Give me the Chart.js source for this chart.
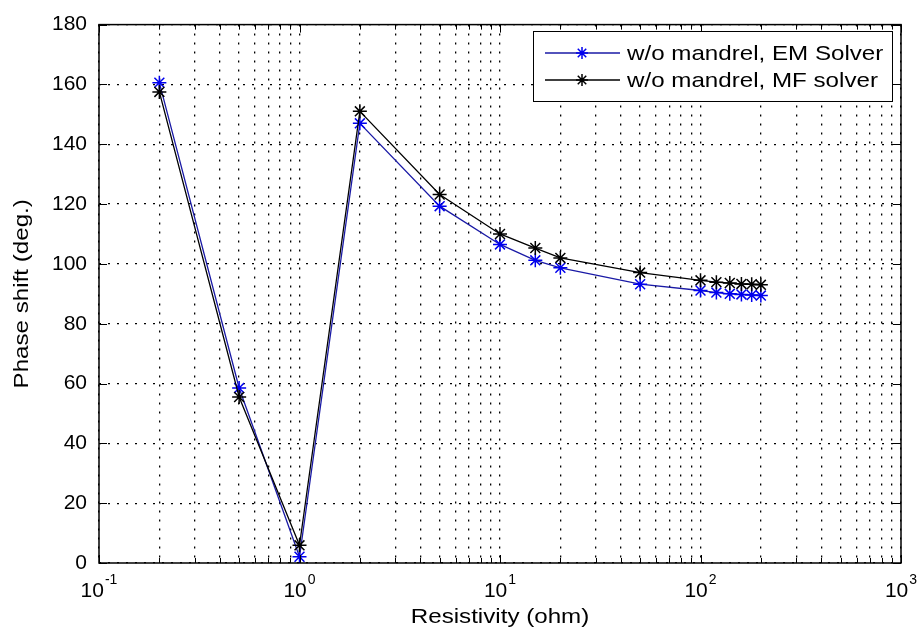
<!DOCTYPE html>
<html>
<head>
<meta charset="utf-8">
<script src="https://cdn.jsdelivr.net/npm/chart.js@4/dist/chart.umd.min.js"></script>
<style>
  body { margin: 0; background: #fff; }
  #wrap { width: 922px; height: 634px; }
</style>
</head>
<body>
<div id="wrap"><canvas id="chart" width="922" height="634"></canvas></div>
<script>
// data
var resistivity = [0.2, 0.5, 1, 2, 5, 10, 15, 20, 50, 100, 120, 140, 160, 180, 200];
var emSolver = [160.6, 58.5, 2.1, 147, 119.3, 106.5, 101.2, 98.7, 93.2, 91.1, 90.4, 90, 89.8, 89.6, 89.4];
var mfSolver = [157.5, 55.5, 5.9, 151, 123.2, 110, 105.3, 102, 97.1, 94.5, 93.9, 93.6, 93.3, 93.2, 93];
var seriesNames = ['w/o mandrel, EM Solver', 'w/o mandrel, MF solver'];
var lineColors = ['#1a1aa6', '#000000'];
var markColors = ['#0000ee', '#000000'];
var xDecades = [-1, 0, 1, 2, 3];
var yTicks = [0, 20, 40, 60, 80, 100, 120, 140, 160, 180];
var xTitle = 'Resistivity (ohm)';
var yTitle = 'Phase shift (deg.)';

var FONT = '"Liberation Sans", Arial, sans-serif';
var STRETCH = 1.15;

function pts(ys) {
    return resistivity.map(function(x, i){ return {x: x, y: ys[i]}; });
}

function starAt(ctx, x, y, r) {
    var d = r * Math.SQRT1_2;
    ctx.beginPath();
    ctx.moveTo(x - r, y); ctx.lineTo(x + r, y);
    ctx.moveTo(x, y - r); ctx.lineTo(x, y + r);
    ctx.moveTo(x - d, y - d); ctx.lineTo(x + d, y + d);
    ctx.moveTo(x - d, y + d); ctx.lineTo(x + d, y - d);
    ctx.stroke();
}

function wideText(ctx, txt, x, y, align) {
    ctx.save();
    ctx.translate(x, y);
    ctx.scale(STRETCH, 1);
    ctx.textAlign = align;
    ctx.fillText(txt, 0, 0);
    ctx.restore();
}

var matlabLook = {
    id: 'matlabLook',
    afterDraw: function(chart) {
        var ctx = chart.ctx, a = chart.chartArea;
        var xs = chart.scales.x, ys = chart.scales.y;
        ctx.save();
        ctx.strokeStyle = '#000';
        ctx.lineWidth = 1;
        ctx.setLineDash([]);

        // inward ticks on all sides
        ctx.beginPath();
        xs.ticks.forEach(function(t){
            var px = Math.round(xs.getPixelForValue(t.value)) + 0.5;
            var len = t.major ? 8 : 5;
            ctx.moveTo(px, a.bottom); ctx.lineTo(px, a.bottom - len);
            ctx.moveTo(px, a.top); ctx.lineTo(px, a.top + len);
        });
        yTicks.forEach(function(v){
            var py = Math.round(ys.getPixelForValue(v)) + 0.5;
            ctx.moveTo(a.left, py); ctx.lineTo(a.left + 8, py);
            ctx.moveTo(a.right, py); ctx.lineTo(a.right - 8, py);
        });
        ctx.stroke();

        // box
        ctx.lineWidth = 1.5;
        ctx.strokeRect(a.left, a.top, a.right - a.left, a.bottom - a.top);

        // x tick labels 10^n
        ctx.fillStyle = '#000';
        ctx.textBaseline = 'alphabetic';
        xDecades.forEach(function(e){
            var px = xs.getPixelForValue(Math.pow(10, e));
            ctx.font = '21px ' + FONT;
            var wb = ctx.measureText('10').width;
            ctx.font = '14px ' + FONT;
            var we = ctx.measureText(String(e)).width;
            var x0 = px - (wb + we + 1) / 2;
            ctx.font = '21px ' + FONT;
            ctx.textAlign = 'left';
            ctx.fillText('10', x0, a.bottom + 34);
            ctx.font = '14px ' + FONT;
            ctx.fillText(String(e), x0 + wb + 1, a.bottom + 21);
        });

        // axis titles
        ctx.font = '21px ' + FONT;
        ctx.textBaseline = 'middle';
        wideText(ctx, xTitle, (a.left + a.right) / 2, 617, 'center');
        ctx.save();
        ctx.translate(22, (a.top + a.bottom) / 2);
        ctx.rotate(-Math.PI / 2);
        wideText(ctx, yTitle, 0, 0, 'center');
        ctx.restore();

        // legend box
        var lx = 533, ly = 31, lw = 359, lh = 70;
        ctx.fillStyle = '#fff';
        ctx.fillRect(lx, ly, lw, lh);
        ctx.lineWidth = 1;
        ctx.strokeStyle = '#000';
        ctx.strokeRect(lx + 0.5, ly + 0.5, lw, lh);
        seriesNames.forEach(function(name, i){
            var ry = ly + 22 + i * 27;
            ctx.strokeStyle = lineColors[i];
            ctx.lineWidth = 1.3;
            ctx.beginPath();
            ctx.moveTo(545, ry); ctx.lineTo(620, ry);
            ctx.stroke();
            ctx.strokeStyle = markColors[i];
            ctx.lineWidth = 1.5;
            starAt(ctx, 582, ry, 6);
            ctx.fillStyle = '#000';
            ctx.font = '21px ' + FONT;
            ctx.textBaseline = 'middle';
            wideText(ctx, name, 627, ry + 1, 'left');
        });
        ctx.restore();
    }
};

var ctx = document.getElementById('chart').getContext('2d');
var myChart = new Chart(ctx, {
    type: 'line',
    data: {
        datasets: [{
            label: seriesNames[0],
            data: pts(emSolver),
            borderColor: lineColors[0],
            pointBorderColor: markColors[0],
            backgroundColor: markColors[0],
            borderWidth: 1.3,
            pointStyle: 'star',
            pointRadius: 7,
            pointBorderWidth: 1.5,
            tension: 0,
            order: 1
        }, {
            label: seriesNames[1],
            data: pts(mfSolver),
            borderColor: lineColors[1],
            pointBorderColor: markColors[1],
            backgroundColor: markColors[1],
            borderWidth: 1.3,
            pointStyle: 'star',
            pointRadius: 7,
            pointBorderWidth: 1.5,
            tension: 0,
            order: 0
        }]
    },
    options: {
        responsive: false,
        animation: false,
        layout: { padding: { top: 18, right: 21, bottom: 0, left: 0 } },
        plugins: { legend: { display: false }, tooltip: { enabled: false } },
        scales: {
            x: {
                type: 'logarithmic',
                min: 0.1,
                max: 1000,
                afterBuildTicks: function(scale){
                    var t = [];
                    for (var e = -1; e < 3; e++) {
                        for (var m = 1; m < 10; m++) {
                            t.push({ value: m * Math.pow(10, e), major: m === 1 });
                        }
                    }
                    t.push({ value: 1000, major: true });
                    scale.ticks = t;
                },
                afterFit: function(scale){ scale.height = 71; },
                ticks: { display: false },
                grid: { color: '#000', lineWidth: 1.3, drawTicks: false },
                border: { display: false, dash: [2, 7] }
            },
            y: {
                min: 0,
                max: 180,
                afterBuildTicks: function(scale){
                    scale.ticks = yTicks.map(function(v){ return { value: v }; });
                },
                afterFit: function(scale){ scale.width = 99; },
                ticks: {
                    color: '#000',
                    padding: 12,
                    font: { family: FONT, size: 21 }
                },
                grid: { color: '#000', lineWidth: 1.3, drawTicks: false },
                border: { display: false, dash: [2, 7] }
            }
        }
    },
    plugins: [matlabLook]
});
</script>
</body>
</html>
